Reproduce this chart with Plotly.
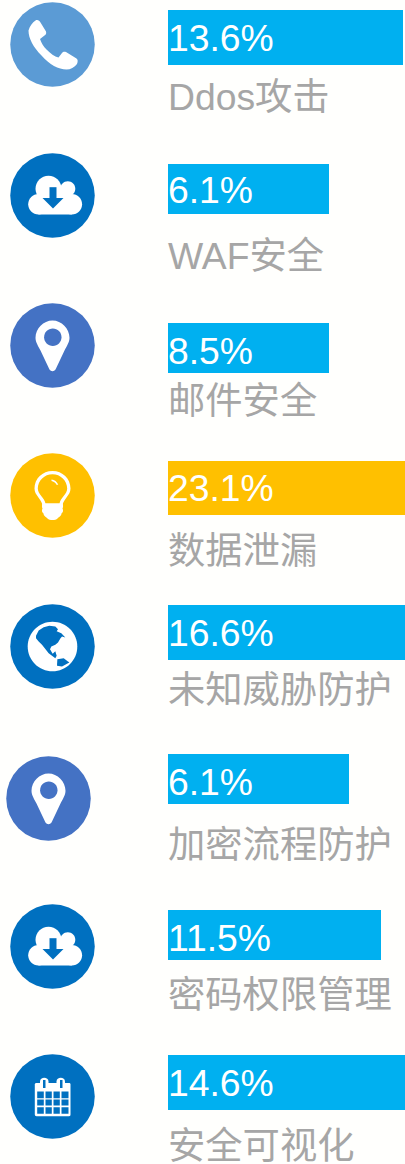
import plotly.graph_objects as go

# ---- data ----
value_labels = ["13.6%", "6.1%", "8.5%", "23.1%", "16.6%", "6.1%", "11.5%", "14.6%"]
categories = ["Ddos攻击", "WAF安全", "邮件安全", "数据泄漏", "未知威胁防护", "加密流程防护", "密码权限管理", "安全可视化"]
bar_lengths = [235, 161, 161, 237, 237, 181, 213, 237]

# ---- layout ----
W, H = 405, 1164
BAR_X = 168
bar_top = [10, 164, 323, 461, 605, 754, 910, 1055]
bar_bot = [65, 214, 373, 515, 660, 804, 960, 1110]
bar_col = ["#00B0F0", "#00B0F0", "#00B0F0", "#FFC000", "#00B0F0", "#00B0F0", "#00B0F0", "#00B0F0"]
value_y = [38, 190, 351, 488, 633, 782, 938, 1083]
label_y = [97, 256, 401, 551, 690, 845, 995, 1146]
icon_x = [52.5, 52.5, 52.5, 52.5, 52.5, 48.5, 52.5, 52.5]
icon_y = [44.5, 195.5, 345.5, 495.5, 646.5, 798.5, 946.5, 1096.5]
icon_col = ["#5B9BD5", "#0070C0", "#4472C4", "#FFC000", "#0070C0", "#4472C4", "#0070C0", "#0070C0"]
icon_kind = ["phone", "cloud", "pin", "bulb", "globe", "pin", "cloud", "cal"]

FONT = "'Liberation Sans', Arial, 'Noto Sans CJK SC', sans-serif"
K = 0.5523


def circ(cx, cy, r):
    k = K * r
    return (f"M{cx-r},{cy} C{cx-r},{cy-k} {cx-k},{cy-r} {cx},{cy-r} "
            f"C{cx+k},{cy-r} {cx+r},{cy-k} {cx+r},{cy} "
            f"C{cx+r},{cy+k} {cx+k},{cy+r} {cx},{cy+r} "
            f"C{cx-k},{cy+r} {cx-r},{cy+k} {cx-r},{cy} Z")


def rect(x0, y0, x1, y1):
    return f"M{x0},{y0} L{x1},{y0} L{x1},{y1} L{x0},{y1} Z"


def poly(pts):
    return "M" + " L".join(f"{x},{y}" for x, y in pts) + " Z"


def zpoly(pts):
    # outline traced on a 3x crop whose centre is (91.5, 90)
    return poly([(round((a - 91.5) / 3, 2), round((b - 90) / 3, 2)) for a, b in pts])


PIN = ("M-17,-7.7 C-17,-17 -9,-25 0,-25 C9,-25 17,-17 17,-7.7 C17,-3 14,1 12,5 "
       "L3.5,23 C2,26.5 -2,26.5 -3.5,23 L-12,5 C-14,1 -17,-3 -17,-7.7 Z")
PHONE = ("M-24,-14 C-23,-18 -20,-22 -17,-24 C-15,-25 -13,-24 -12,-22 L-6.5,-13 "
         "C-6,-11 -6.5,-10 -8,-9 L-12.5,-5.5 C-11,-1 -9,2 -6,5 C-2,9 2,12 6,13 "
         "L9.5,8.5 C10.5,7 12,7 13.5,7.5 L24,14 C25.5,15 25.5,17 24.5,19.5 "
         "C22,23 18,25 14,25 C6,25 -3,20 -11,11 C-19,3 -24,-6 -24,-14 Z")
BULB_OUT = ("M-18,-7 C-18,-17 -10,-24.5 0,-24.5 C10,-24.5 18,-17 18,-7 "
            "C18,0 11,3 10,10 L-10,10 C-11,3 -18,0 -18,-7 Z")
BULB_IN = ("M-14.7,-7 C-14.7,-15 -8,-21.3 0,-21.3 C8,-21.3 14.7,-15 14.7,-7 "
           "C14.7,-1 8,2 7,8 L-7,8 C-8,2 -14.7,-1 -14.7,-7 Z")
BULB_BASE = ("M-10,8 L10,8 C11,10 10.5,12 10,13 C11,15 10.5,17 9,18 C9,20.5 6,21.5 5,23 "
             "C3,25 -3,25 -5,23 C-6,21.5 -9,20.5 -9,18 C-10.5,17 -11,15 -10,13 C-10.5,12 -11,10 -10,8 Z")
NORTH_AM = [(42, 58), (50, 42), (65, 32), (82, 28), (100, 30), (108, 38), (104, 44), (118, 50), (130, 63),
            (120, 60), (115, 66), (108, 78), (100, 85), (88, 90), (84, 98), (92, 112), (100, 104), (104, 118),
            (100, 125), (80, 110), (60, 85), (50, 75), (42, 65)]
SOUTH_AM = [(106, 128), (125, 125), (142, 138), (120, 150), (105, 148)]


def icon_shapes(kind, col):
    """Return (path, fill) pairs with coordinates relative to the circle centre."""
    out = []
    if kind == "phone":
        out.append((PHONE, "white"))
    elif kind == "cloud":
        for p in [circ(-14, 8.7, 10.3), circ(-4, -6.7, 13), circ(15.3, -6.7, 7.5),
                  circ(19.3, 8.7, 10.3), rect(-14, 0, 19.3, 19), rect(-4, -6, 15, 4)]:
            out.append((p, "white"))
        out.append((rect(-3, -8.3, 4, 2.5), col))
        out.append((poly([(-10, 2.5), (11, 2.5), (0.5, 13)]), col))
    elif kind == "pin":
        out += [(PIN, "white"), (circ(0.3, -8.3, 8.7), col)]
    elif kind == "bulb":
        out += [(BULB_OUT, "white"), (BULB_IN, col), (BULB_BASE, "white"),
                ("M-1,-16 C2,-15.5 4.5,-14 5.8,-10.7 L4,-10.7 C3,-13 1,-14 -1,-14.5 Z", "white")]
    elif kind == "globe":
        out += [(circ(0, 0, 24.8), "white"), (zpoly(NORTH_AM), col), (zpoly(SOUTH_AM), col)]
    elif kind == "cal":
        for p in ["M-16,-13.5 L16.5,-13.5 C17.5,-13.5 18,-13 18,-12 L18,18 C18,19 17.5,19.7 16.5,19.7 "
                  "L-16,19.7 C-17,19.7 -17.7,19 -17.7,18 L-17.7,-12 C-17.7,-13 -17,-13.5 -16,-13.5 Z",
                  "M-12.5,-10 L-12.5,-15 C-12.5,-20 -4,-20 -4,-15 L-4,-10 Z",
                  "M4,-10 L4,-15 C4,-20 12.5,-20 12.5,-15 L12.5,-10 Z"]:
            out.append((p, "white"))
        out.append((rect(-9.5, -16.5, -7, -8.5), col))
        out.append((rect(7.5, -16.5, 10, -8.5), col))
        cols = [(-15.3, -8.7), (-7, -0.7), (1, 7.3), (9, 16)]
        rows = [(-5, 1.7), (3, 9), (10.7, 17.3)]
        grid = " ".join(rect(a, c, b, d) for a, b in cols for c, d in rows)
        out.append((grid, col))
    return out


def translate(path, cx, cy):
    res = []
    for tok in path.split():
        head = ""
        while tok and tok[0].isalpha():
            head += tok[0]
            tok = tok[1:]
        if tok:
            x, y = tok.split(",")
            res.append(f"{head}{float(x)+cx:.2f},{float(y)+cy:.2f}")
        else:
            res.append(head)
    return " ".join(res)


fig = go.Figure()
fig.add_trace(go.Bar(
    orientation="h",
    y=[(a + b) / 2 for a, b in zip(bar_top, bar_bot)],
    x=bar_lengths,
    base=BAR_X,
    width=[b - a for a, b in zip(bar_top, bar_bot)],
    marker=dict(color=bar_col, line=dict(width=0)),
    hoverinfo="skip",
))
fig.add_trace(go.Scatter(
    x=icon_x, y=icon_y, mode="markers",
    marker=dict(size=84.5, color=icon_col, line=dict(width=0)),
    hoverinfo="skip",
))

shapes = []
for kind, cx, cy, col in zip(icon_kind, icon_x, icon_y, icon_col):
    for path, fill in icon_shapes(kind, col):
        shapes.append(dict(type="path", xref="x", yref="y", layer="above",
                           path=translate(path, cx, cy), fillcolor=fill, line=dict(width=0)))

annotations = []
for txt, y in zip(value_labels, value_y):
    annotations.append(dict(x=BAR_X, y=y, xref="x", yref="y", text=txt, showarrow=False,
                            xanchor="left", yanchor="middle", borderpad=0, borderwidth=0,
                            font=dict(family=FONT, size=37.3, color="white")))
for txt, y in zip(categories, label_y):
    annotations.append(dict(x=BAR_X, y=y, xref="x", yref="y", text=txt, showarrow=False,
                            xanchor="left", yanchor="middle", borderpad=0, borderwidth=0,
                            font=dict(family=FONT, size=37.3, color="#A6A6A6")))

fig.update_layout(
    width=W, height=H, margin=dict(l=0, r=0, t=0, b=0),
    paper_bgcolor="#FFFFFD", plot_bgcolor="#FFFFFD",
    showlegend=False, shapes=shapes, annotations=annotations,
    xaxis=dict(range=[0, W], visible=False, fixedrange=True),
    yaxis=dict(range=[H, 0], visible=False, fixedrange=True),
)
fig.write_html("out.html", config={"displayModeBar": False},
               post_script="document.body.style.margin='0';document.body.style.overflow='hidden';")
